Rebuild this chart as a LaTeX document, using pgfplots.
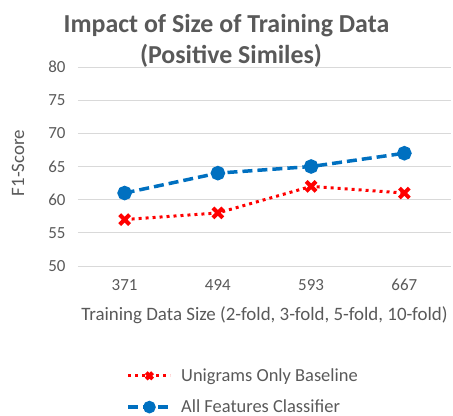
\documentclass[border=0pt]{standalone}
\usepackage{pgfplots}
\pgfplotsset{compat=1.18}
\usepackage{fontspec}
\setmainfont{Carlito}
\definecolor{txt}{HTML}{595959}
\definecolor{myred}{HTML}{FF0000}
\definecolor{myblue}{HTML}{0070C0}
\definecolor{gridc}{HTML}{D9D9D9}
\begin{document}
\begin{tikzpicture}
\useasboundingbox (-78bp,-150bp) rectangle (375bp,266bp);
\begin{axis}[
 scale only axis, width=373bp, height=199bp,
 xmin=-0.5, xmax=3.5, ymin=50, ymax=80,
 xtick={0,1,2,3}, xticklabels={371,494,593,667},
 ytick={50,55,...,80},
 ymajorgrids, major grid style={gridc, line width=1pt},
 axis line style={draw=none}, tick style={draw=none},
 /pgf/number format/assume math mode=true,
 ticklabel style={font=\fontsize{17}{20}\selectfont, text=txt},
 yticklabel style={xshift=-9bp},
 xticklabel style={yshift=-10bp},
 xlabel={Training Data Size (2-fold, 3-fold, 5-fold, 10-fold)},
 ylabel={F1-Score},
 label style={font=\fontsize{19}{22}\selectfont, text=txt},
 xlabel style={at={(axis description cs:0.5,-0.246)}, anchor=center},
 ylabel style={at={(axis description cs:-0.161,0.518)}, anchor=center},
 legend style={draw=none, fill=none, at={(axis description cs:0.13,-0.505)}, anchor=north west,
   font=\fontsize{18.5}{22}\selectfont, text=txt, row sep=13bp, inner sep=0pt},
 legend cell align=left,
 legend image code/.code={\draw[mark repeat=2,mark phase=2,#1,mark size=4.5bp] plot coordinates {(0bp,0bp) (21bp,0bp) (42bp,0bp)}; \path (49bp,0bp);},
 clip=false,
]
\addplot[myred, line width=3bp, dash pattern=on 3bp off 4bp, mark=x, mark size=7bp,
  mark options={solid, line width=4bp}] coordinates {(0,57) (1,58) (2,62) (3,61)};
\addlegendentry{Unigrams Only Baseline}
\addplot[myblue, line width=3.5bp, dash pattern=on 10bp off 5bp, mark=*, mark size=5.5bp,
  mark options={solid}] coordinates {(0,61) (1,64) (2,65) (3,67)};
\addlegendentry{All Features Classifier}
\end{axis}
\node[anchor=base, text=txt, font=\fontsize{26}{30}\selectfont\bfseries] at (148.5bp,233bp) {Impact of Size of Training Data};
\node[anchor=base, text=txt, font=\fontsize{26}{30}\selectfont\bfseries] at (153bp,202.7bp) {(Positive Similes)};
\end{tikzpicture}
\end{document}
